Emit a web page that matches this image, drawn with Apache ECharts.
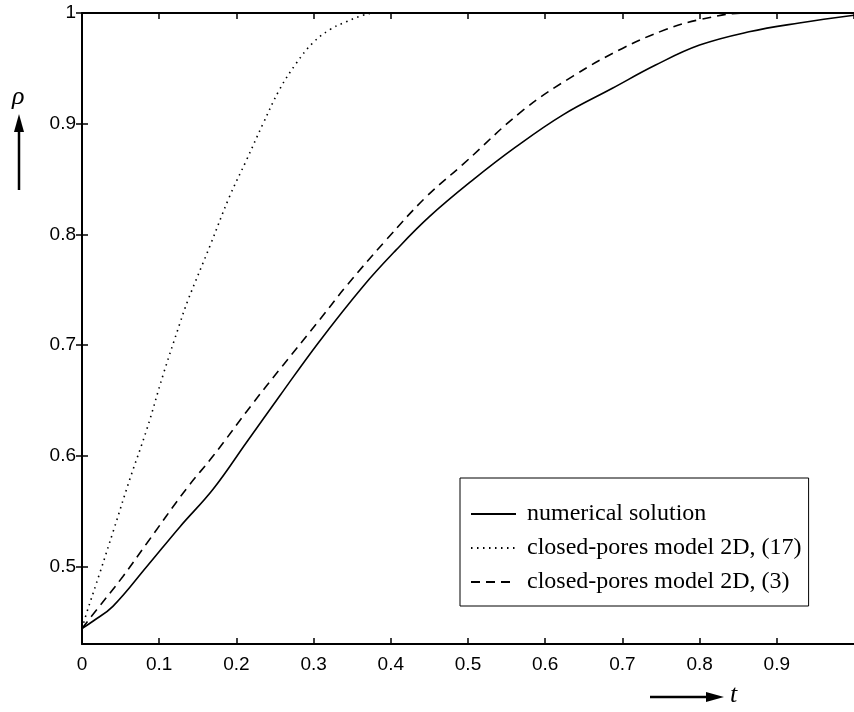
<!DOCTYPE html>
<html>
<head>
<meta charset="utf-8">
<script src="https://cdn.jsdelivr.net/npm/echarts@6/dist/echarts.min.js"></script>
<style>
html, body { margin: 0; padding: 0; background: #fff; }
#chart { width: 854px; height: 712px; }
</style>
</head>
<body>
<div id="chart"></div>
<script>
// numerical solution
var tNum = [0, 0.015, 0.04, 0.084, 0.127, 0.17, 0.213, 0.256, 0.306, 0.364, 0.407, 0.45,
    0.506, 0.562, 0.623, 0.687, 0.743, 0.80, 0.864, 0.929, 1.0];
var rhoNum = [0.444, 0.451, 0.464, 0.500, 0.536, 0.570, 0.612, 0.654, 0.702, 0.753, 0.786, 0.816,
    0.849, 0.879, 0.908, 0.932, 0.953, 0.971, 0.983, 0.991, 0.998];

// closed-pores model 2D, (17)
var tModel17 = [0, 0.006, 0.023, 0.041, 0.062, 0.084, 0.105, 0.127, 0.1375, 0.166, 0.191, 0.213,
    0.2345, 0.256, 0.278, 0.299, 0.321, 0.342, 0.364, 0.38, 1.0];
var rhoModel17 = [0.444, 0.458, 0.494, 0.533, 0.579, 0.624, 0.673, 0.720, 0.741, 0.790, 0.834, 0.867,
    0.900, 0.931, 0.955, 0.973, 0.985, 0.992, 0.998, 1.0, 1.0];

// closed-pores model 2D, (3)
var tModel3 = [0, 0.019, 0.053, 0.084, 0.135, 0.17, 0.222, 0.256, 0.308, 0.342, 0.394, 0.446,
    0.493, 0.571, 0.636, 0.70, 0.756, 0.80, 0.86, 1.0];
var rhoModel3 = [0.444, 0.461, 0.491, 0.521, 0.570, 0.600, 0.648, 0.678, 0.723, 0.753, 0.795, 0.834,
    0.863, 0.912, 0.943, 0.968, 0.985, 0.994, 1.0, 1.0];

var seriesNames = ['numerical solution', 'closed-pores model 2D, (17)', 'closed-pores model 2D, (3)'];
var yTicks = [0.5, 0.6, 0.7, 0.8, 0.9, 1];

function pairs(xs, ys) {
    return xs.map(function (x, i) { return [x, ys[i]]; });
}

var mychart = echarts.init(document.getElementById('chart'));
var tickFont = { color: '#000', fontSize: 19, fontFamily: 'Liberation Sans' };

var option = {
    animation: false,
    grid: { left: 82, right: -1, top: 13, bottom: 68 },
    legend: {
        data: seriesNames,
        orient: 'vertical',
        left: 460,
        top: 478,
        padding: [24, 7, 12, 10],
        itemGap: 10,
        itemWidth: 45,
        itemHeight: 20,
        itemStyle: { opacity: 0 },
        borderColor: '#000',
        borderWidth: 1,
        textStyle: { color: '#000', fontSize: 24, lineHeight: 24, fontFamily: 'Liberation Serif', padding: [0, 0, 0, 6] }
    },
    xAxis: [
        {
            type: 'value', min: 0, max: 1, interval: 0.1, position: 'bottom',
            axisLine: { lineStyle: { color: '#000', width: 2 } },
            axisTick: { inside: true, length: 6, lineStyle: { color: '#000', width: 1.5 } },
            axisLabel: Object.assign({ margin: 11, showMaxLabel: false }, tickFont),
            splitLine: { show: false }
        },
        {
            type: 'value', min: 0, max: 1, interval: 0.1, position: 'top',
            axisLine: { lineStyle: { color: '#000', width: 2 } },
            axisTick: { inside: true, length: 6, lineStyle: { color: '#000', width: 1.5 } },
            axisLabel: { show: false },
            splitLine: { show: false }
        }
    ],
    yAxis: [
        {
            type: 'value', min: 0.43, max: 1, position: 'left',
            axisLine: { show: true, lineStyle: { color: '#000', width: 2 } },
            axisTick: { show: true, inside: true, length: 6, customValues: yTicks, lineStyle: { color: '#000', width: 1.5 } },
            axisLabel: Object.assign({ margin: 6, customValues: yTicks }, tickFont),
            splitLine: { show: false }
        },
        {
            type: 'value', min: 0.43, max: 1, position: 'right',
            axisLine: { show: false },
            axisTick: { show: true, inside: true, length: 6, customValues: yTicks, lineStyle: { color: '#000', width: 1.5 } },
            axisLabel: { show: false },
            splitLine: { show: false }
        }
    ],
    series: [
        {
            name: seriesNames[0], type: 'line', data: pairs(tNum, rhoNum),
            symbol: 'none', smooth: 0.4,
            lineStyle: { color: '#000', width: 1.6, type: 'solid' },
            itemStyle: { color: '#000' }
        },
        {
            name: seriesNames[1], type: 'line', data: pairs(tModel17, rhoModel17),
            symbol: 'none', smooth: 0.4,
            lineStyle: { color: '#000', width: 1.6, type: [1.5, 4.5] },
            itemStyle: { color: '#000' }
        },
        {
            name: seriesNames[2], type: 'line', data: pairs(tModel3, rhoModel3),
            symbol: 'none', smooth: 0.4,
            lineStyle: { color: '#000', width: 1.6, type: [9, 6] },
            itemStyle: { color: '#000' }
        }
    ],
    graphic: [
        { type: 'text', left: 12, top: 84, style: { text: 'ρ', fill: '#000', font: 'italic 26px "Liberation Serif"' } },
        { type: 'line', shape: { x1: 19, y1: 190, x2: 19, y2: 128 }, style: { stroke: '#000', lineWidth: 2.5 } },
        { type: 'polygon', shape: { points: [[19, 114], [14, 132], [24, 132]] }, style: { fill: '#000' } },
        { type: 'line', shape: { x1: 650, y1: 697, x2: 710, y2: 697 }, style: { stroke: '#000', lineWidth: 2.5 } },
        { type: 'polygon', shape: { points: [[724, 697], [706, 692], [706, 702]] }, style: { fill: '#000' } },
        { type: 'text', left: 730, top: 682, style: { text: 't', fill: '#000', font: 'italic 26px "Liberation Serif"' } }
    ]
};
mychart.setOption(option);
</script>
</body>
</html>
